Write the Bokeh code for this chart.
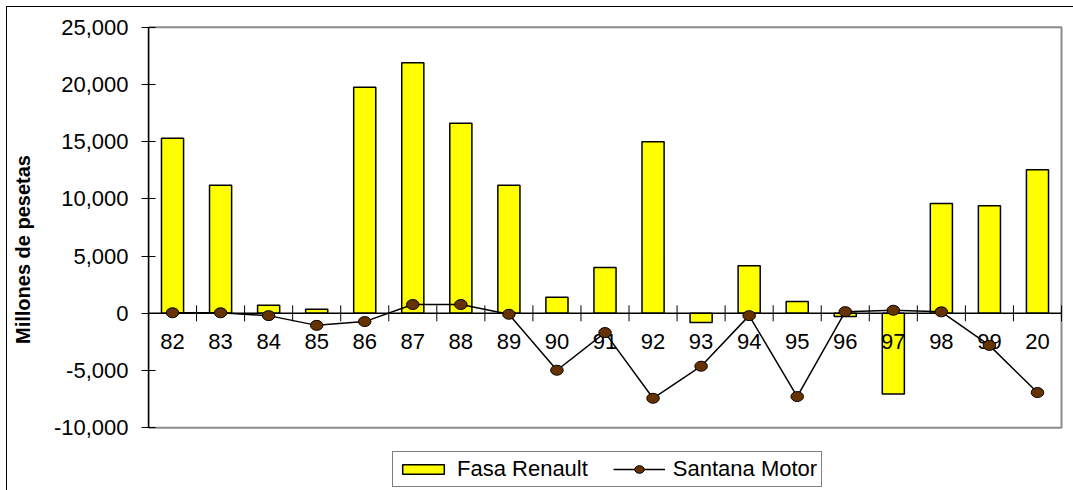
import math
from bokeh.plotting import figure
from bokeh.models import (Range1d, FixedTicker, NumeralTickFormatter,
                          Legend, LegendItem, ColumnDataSource)
from bokeh.core.properties import value
from bokeh.embed import file_html
from bokeh.resources import INLINE

# Years (two-digit labels, "20" stands for 2000)
years = ["82", "83", "84", "85", "86", "87", "88", "89", "90", "91",
         "92", "93", "94", "95", "96", "97", "98", "99", "20"]

# Results in millions of pesetas
fasa_renault = [15300, 11200, 700, 350, 19750, 21900, 16600, 11200, 1400, 4000,
                15000, -800, 4150, 1030, -280, -7050, 9600, 9400, 12550]
santana_motor = [50, 50, -200, -1050, -720, 770, 770, -80, -4970, -1680,
                 -7420, -4620, -200, -7270, 150, 270, 130, -2800, -6920]

y_ticks = [-10000, -5000, 0, 5000, 10000, 15000, 20000, 25000]

FONT = "Liberation Sans"
n = len(years)
idx = list(range(n))
bounds = [i - 0.5 for i in range(n + 1)]

# Page layout (pixels): outer box origin, plotting area edges
W, H = 1067, 484
PAGE_X0, PAGE_Y0 = 7, 7
AREA_L, AREA_R, AREA_T, AREA_B = 148, 1061, 26.7, 427.3

# Frame fills the canvas to the right/bottom; the ranges are widened so the
# value axis and categories land on the plotting area
py = (AREA_B - AREA_T) / (y_ticks[-1] - y_ticks[0])
px = (AREA_R - AREA_L) / n
y_top = y_ticks[-1] + (AREA_T - PAGE_Y0) / py
y_bot = y_ticks[0] - (PAGE_Y0 + H - AREA_B) / py
x_end = bounds[-1] + (PAGE_X0 + W - AREA_R) / px

src = ColumnDataSource(dict(x=idx, fasa=fasa_renault, santana=santana_motor,
                            year=years, base=[0] * n))

p = figure(width=W, height=H, output_backend="svg", toolbar_location=None,
           x_range=Range1d(bounds[0], x_end), y_range=Range1d(y_bot, y_top),
           min_border_left=AREA_L - PAGE_X0, min_border_right=0,
           min_border_top=0, min_border_bottom=0,
           x_axis_location=None, margin=(PAGE_Y0 - 1, 0, 0, PAGE_X0 - 1),
           styles={"border-left": "1px solid black", "border-top": "1px solid black"})
p.grid.visible = False
p.outline_line_color = None
p.background_fill_color = "white"
p.border_fill_color = "white"

# Y axis
ya = p.yaxis[0]
ya.bounds = (y_ticks[0], y_ticks[-1])
ya.ticker = FixedTicker(ticks=y_ticks)
ya.formatter = NumeralTickFormatter(format="0,0")
ya.axis_line_color = "black"
ya.axis_line_width = 1.5
ya.major_tick_line_color = "black"
ya.major_tick_line_width = 1
ya.major_tick_in = 7
ya.major_tick_out = 7
ya.minor_tick_line_color = None
ya.major_label_standoff = 13
ya.major_label_text_font = FONT
ya.major_label_text_font_size = "22px"
ya.major_label_text_color = "black"
ya.axis_label = "Millones de pesetas"
ya.axis_label_text_font = FONT
ya.axis_label_text_font_size = "20px"
ya.axis_label_text_font_style = "bold"
ya.axis_label_text_color = "black"
ya.axis_label_standoff = 17

# Plotting area border
p.quad(left=bounds[0], right=bounds[-1], bottom=y_ticks[0], top=y_ticks[-1],
       fill_color=None, line_color="#8c8c8c", line_width=2)

bars = p.vbar(x="x", top="fasa", bottom=0, width=0.46, source=src,
              fill_color="#ffff00", line_color="black", line_width=1.5)

# Category axis along zero: line plus boundary ticks crossing it
p.line(x=[bounds[0], bounds[-1]], y=[0, 0], line_color="black", line_width=1.5)
p.scatter(x=bounds, y=[0] * len(bounds), marker="dash", size=16, angle=math.pi / 2,
          line_color="black", line_width=1)

# Year labels hanging under the zero line
p.text(x="x", y="base", text="year", source=src, y_offset=21,
       text_align="center", text_baseline="top", text_color="black",
       text_font=value(FONT), text_font_size="22px")

line = p.line(x="x", y="santana", source=src, line_color="black", line_width=1.5)
dots = p.ellipse(x="x", y="santana", width=12.5, height=10,
                 width_units="screen", height_units="screen", source=src,
                 fill_color="#663300", line_color="black", line_width=1)

legend = Legend(items=[LegendItem(label="Fasa Renault", renderers=[bars]),
                       LegendItem(label="Santana Motor", renderers=[line, dots])],
                location=(392 - AREA_L, PAGE_Y0 + H - 487.3), orientation="horizontal",
                label_text_font=FONT, label_text_font_size="22px", label_text_color="black",
                glyph_width=52, glyph_height=12, label_standoff=8, spacing=25,
                padding=4, margin=0, border_line_color="black", border_line_width=1,
                background_fill_color="white", background_fill_alpha=1)
p.add_layout(legend, "center")

open("out.html", "w").write(file_html(p, INLINE))
